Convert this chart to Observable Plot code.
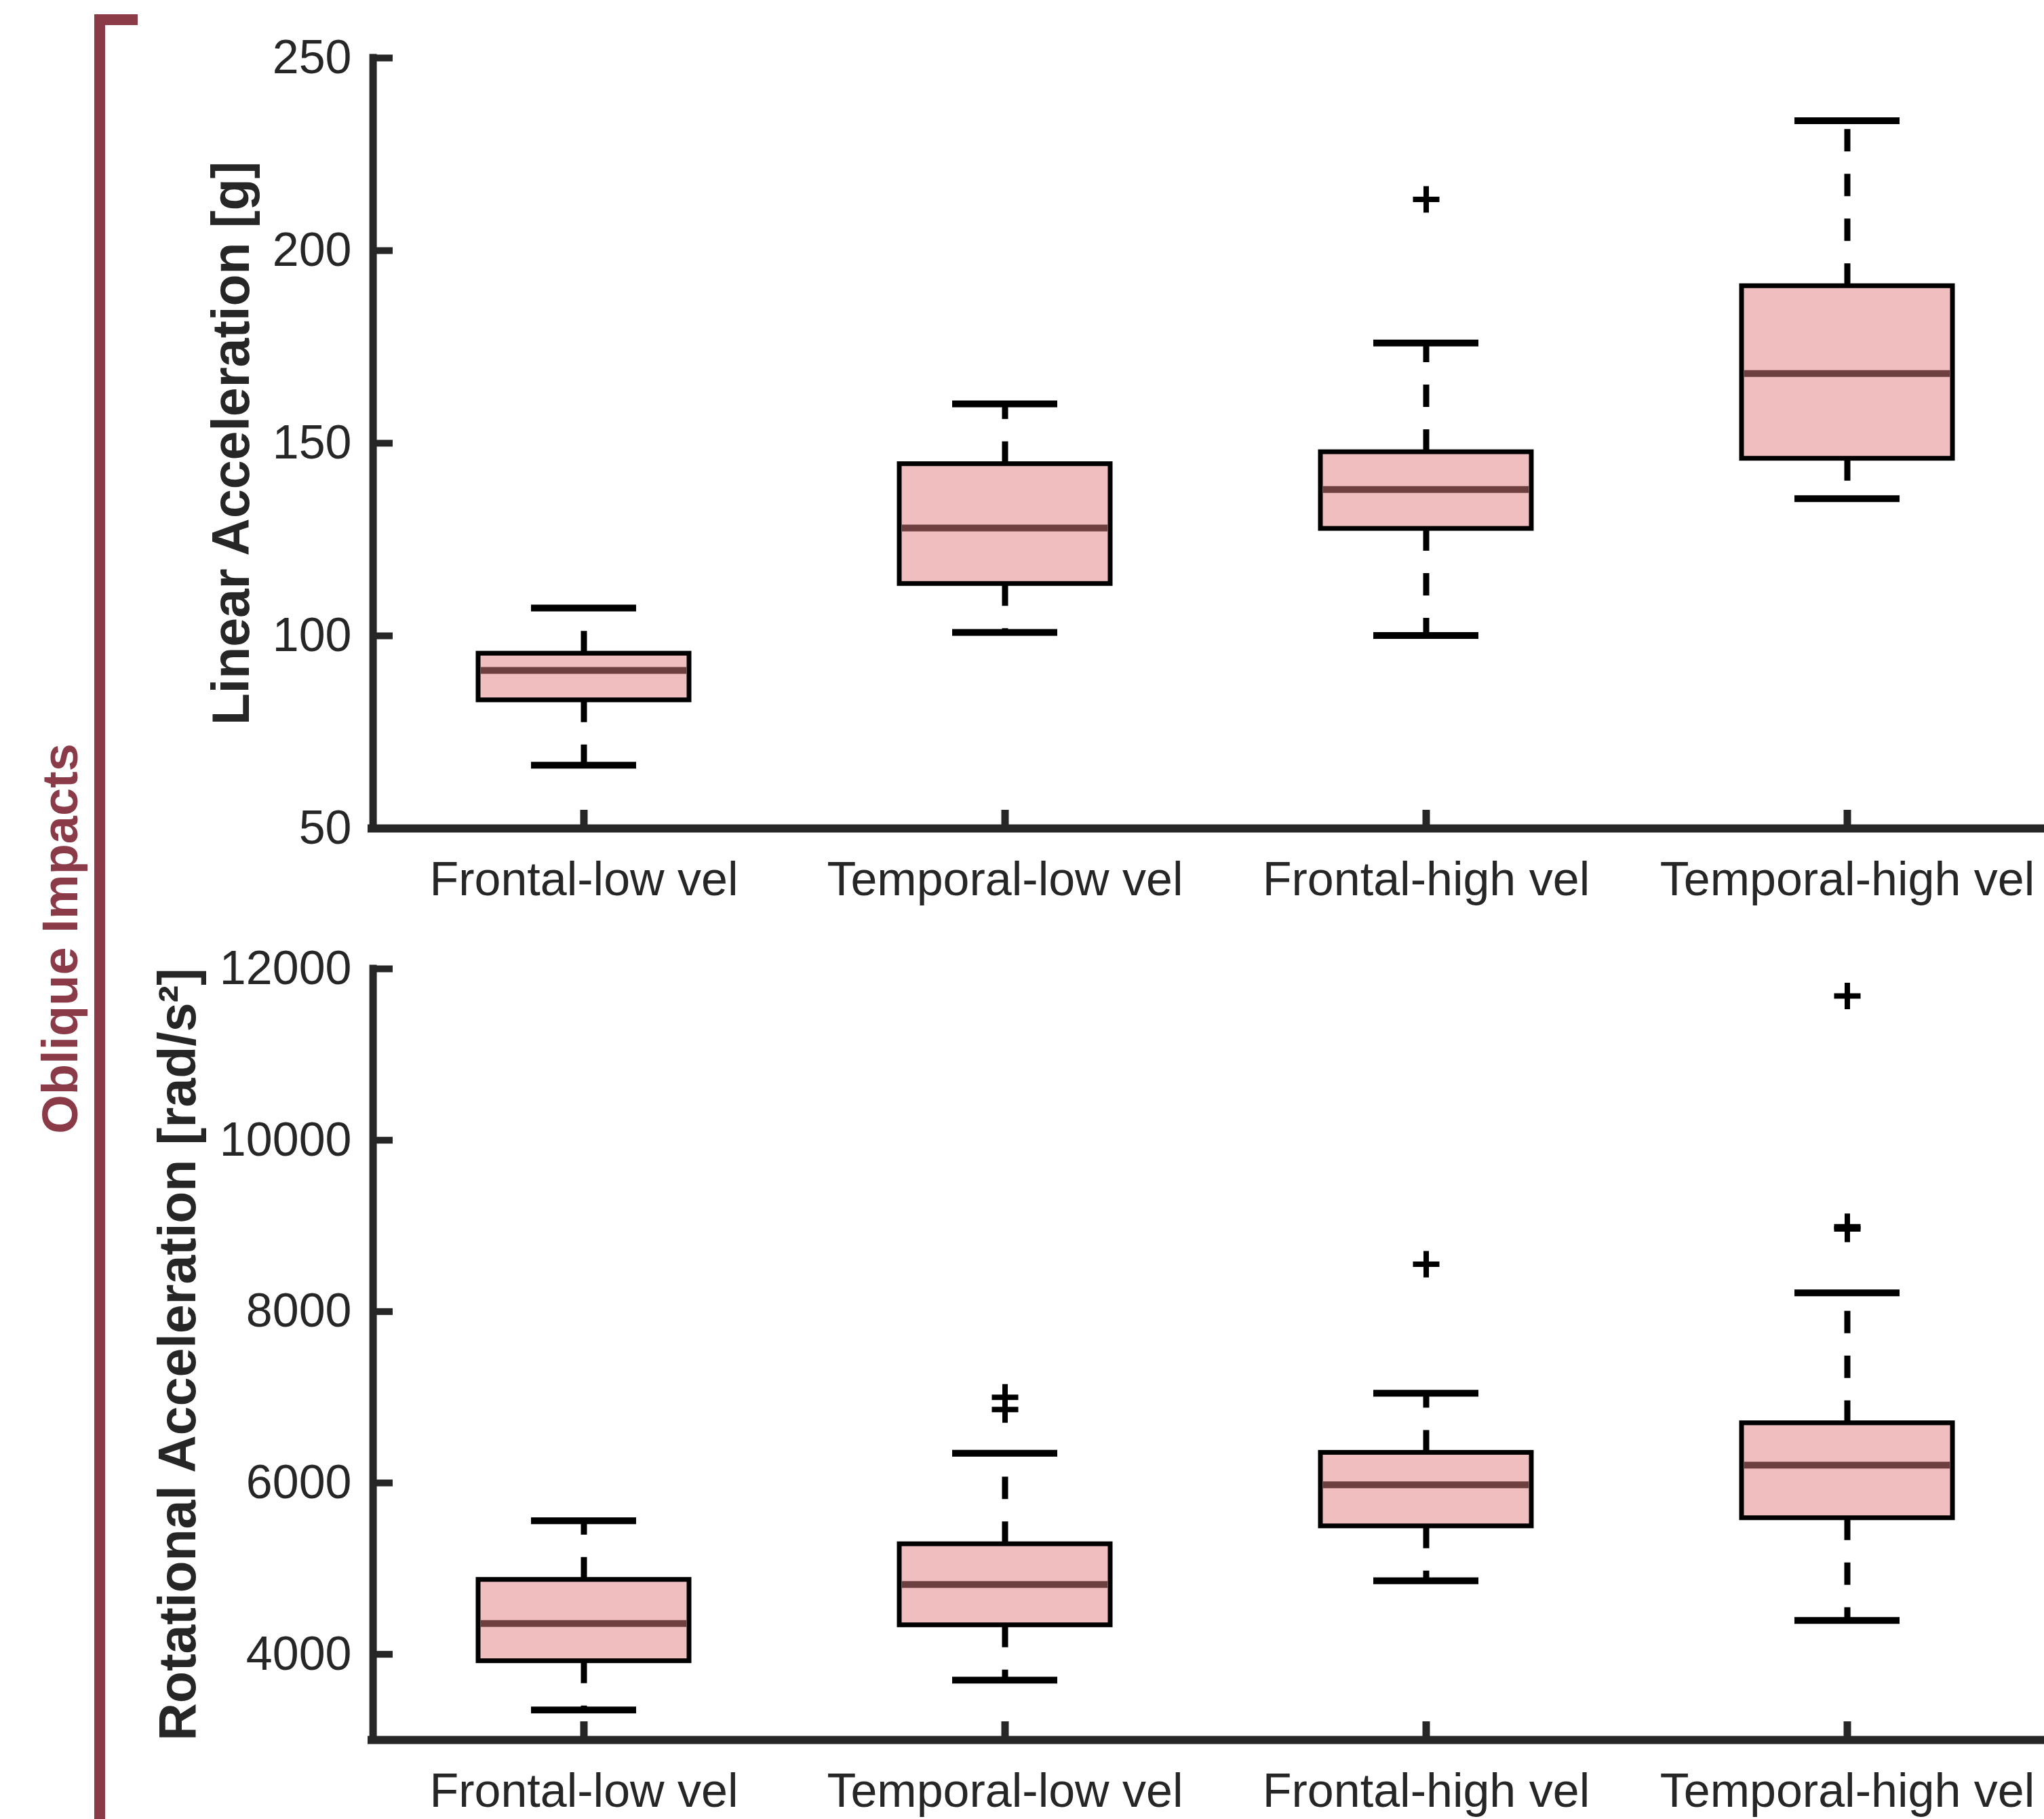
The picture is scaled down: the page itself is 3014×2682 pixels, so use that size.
<!DOCTYPE html>
<html>
<head>
<meta charset="utf-8">
<script src="https://cdn.jsdelivr.net/npm/d3@7"></script>
<script src="https://cdn.jsdelivr.net/npm/@observablehq/plot@0.6"></script>
<style>
  html, body { margin: 0; padding: 0; background: #ffffff; overflow: hidden; }
  #wrap { position: relative; width: 3014px; height: 2682px; overflow: hidden; background: #ffffff; }
  #top, #bottom { position: absolute; left: 0; z-index: 1; }
  #top { top: 0; }
  #bottom { top: 1380px; }
  #bracket { position: absolute; left: 139px; top: 21px; width: 48px; height: 2720px; z-index: 5;
             border-left: 16px solid #8B3A47; border-top: 16px solid #8B3A47; }
  #group { position: absolute; left: 0; top: 0; z-index: 5; }
</style>
</head>
<body>
<div id="wrap">
  <div id="top"></div>
  <div id="bottom"></div>
  <div id="bracket"></div>
  <svg id="group" width="200" height="2682">
    <text transform="translate(88,1384) rotate(-90)" text-anchor="middle" dominant-baseline="central"
          font-family="'Liberation Sans', Arial, sans-serif" font-size="74" font-weight="bold" fill="#8B3A47">Oblique Impacts</text>
  </svg>
</div>
<script>
// ---- data ----
const categories = ["Frontal-low vel", "Temporal-low vel", "Frontal-high vel", "Temporal-high vel"];

// Linear acceleration [g]
const linTicks = [50, 100, 150, 200, 250];
const linLow    = [66.4, 100.9, 100.1, 135.6];
const linQ1     = [83.3, 113.5, 127.8, 146.0];
const linMedian = [91.0, 128.0, 138.0, 168.1];
const linQ3     = [95.4, 144.6, 147.7, 190.8];
const linHigh   = [107.2, 160.2, 176.0, 233.7];
const linOutlierCats = ["Frontal-high vel"];
const linOutlierVals = [213.3];

// Rotational acceleration [rad/s^2]
const rotTicks = [4000, 6000, 8000, 10000, 12000];
const rotLow    = [3351, 3699, 4858, 4396];
const rotQ1     = [3921, 4340, 5495, 5590];
const rotMedian = [4360, 4815, 5978, 6208];
const rotQ3     = [4870, 5286, 6353, 6698];
const rotHigh   = [5559, 6347, 7046, 8218];
const rotOutlierCats = ["Temporal-low vel", "Temporal-low vel", "Frontal-high vel", "Temporal-high vel", "Temporal-high vel", "Temporal-high vel"];
const rotOutlierVals = [6999, 6857, 8553, 11684, 8990, 8965];

// ---- build ----
const FONT = "'Liberation Sans', Arial, Helvetica, sans-serif";
const AXIS = "#262626";
const W = 3035, ML = 548;
const step = (W - ML) / 4;

function rowsOf(lo, q1, med, q3, hi) {
  return categories.map((c, i) => ({cat: c, lo: lo[i], q1: q1[i], med: med[i], q3: q3[i], hi: hi[i]}));
}

function panel({rows, outliers, ticks, domain, height, marginTop, marginBottom, title, titleDx}) {
  const innerH = height - marginTop - marginBottom;
  return Plot.plot({
    width: W,
    height,
    marginLeft: ML,
    marginRight: 0,
    marginTop,
    marginBottom,
    style: {fontFamily: FONT, color: AXIS, background: "transparent", maxWidth: "none", overflow: "visible"},
    x: {type: "band", domain: categories, paddingInner: 0.5, paddingOuter: 0.25},
    y: {type: "linear", domain},
    marks: [
      // whiskers (dashed) from box edge outward
      Plot.ruleX(rows, {x: "cat", y1: "q3", y2: "hi", stroke: "#000", strokeWidth: 9, strokeDasharray: "33,33"}),
      Plot.ruleX(rows, {x: "cat", y1: "q1", y2: "lo", stroke: "#000", strokeWidth: 9, strokeDasharray: "33,33"}),
      // whisker caps
      Plot.tickY(rows, {x: "cat", y: "hi", stroke: "#000", strokeWidth: 10, insetLeft: 78, insetRight: 78}),
      Plot.tickY(rows, {x: "cat", y: "lo", stroke: "#000", strokeWidth: 10, insetLeft: 78, insetRight: 78}),
      // boxes
      Plot.barY(rows, {x: "cat", y1: "q1", y2: "q3", fill: "#F0BEBE", stroke: "#000", strokeWidth: 7}),
      // medians
      Plot.tickY(rows, {x: "cat", y: "med", stroke: "#6E3F3F", strokeWidth: 10, insetLeft: 4, insetRight: 4}),
      // outliers
      Plot.dot(outliers, {x: "cat", y: "v", symbol: "plus", r: 12.6, stroke: "#000", strokeWidth: 8}),
      // axis lines
      Plot.ruleY([domain[0]], {stroke: AXIS, strokeWidth: 12, strokeLinecap: "square"}),
      Plot.ruleX([categories[0]], {x: (d) => d, dx: -step / 2, y1: domain[0], y2: domain[1], stroke: AXIS, strokeWidth: 11, strokeLinecap: "square"}),
      // inward ticks
      Plot.tickY(ticks, {y: (d) => d, stroke: AXIS, strokeWidth: 10, insetRight: W - ML - 31}),
      Plot.tickX(categories, {x: (d) => d, stroke: AXIS, strokeWidth: 11, insetTop: innerH - 27}),
      // tick labels
      Plot.axisY({ticks, tickSize: 0, tickPadding: 30, fontSize: 70, tickFormat: (d) => String(d), label: null}),
      Plot.axisX({tickSize: 0, tickPadding: 49, fontSize: 70, label: null}),
      // axis title
      Plot.text([title], {text: (d) => d, frameAnchor: "left", dx: titleDx, rotate: -90, fontSize: 77,
        fontWeight: "bold", fill: AXIS, textAnchor: "middle", lineAnchor: "middle"})
    ]
  });
}

const linRows = rowsOf(linLow, linQ1, linMedian, linQ3, linHigh);
const linOut = linOutlierCats.map((c, i) => ({cat: c, v: linOutlierVals[i]}));
const rotRows = rowsOf(rotLow, rotQ1, rotMedian, rotQ3, rotHigh);
const rotOut = rotOutlierCats.map((c, i) => ({cat: c, v: rotOutlierVals[i]}));

document.getElementById("top").append(panel({
  rows: linRows, outliers: linOut, ticks: linTicks, domain: [50, 250],
  height: 1380, marginTop: 85, marginBottom: 159,
  title: "Linear Acceleration [g]", titleDx: -206
}));

document.getElementById("bottom").append(panel({
  rows: rotRows, outliers: rotOut, ticks: rotTicks, domain: [3000, 12000],
  height: 1302, marginTop: 48, marginBottom: 117,
  title: "Rotational Acceleration [rad/s²]", titleDx: -285
}));
</script>
</body>
</html>
